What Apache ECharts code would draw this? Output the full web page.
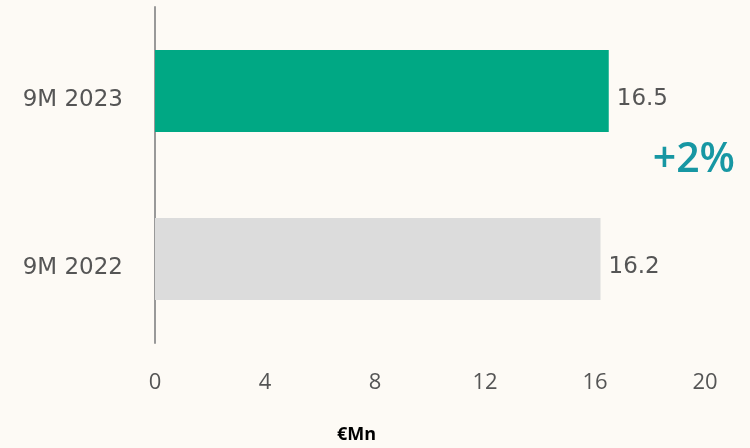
<!doctype html>
<html>
<head>
    <meta charset="utf-8">
    <title>9M revenue</title>
    <script src="https://cdn.jsdelivr.net/npm/echarts@6/dist/echarts.min.js"></script>
    <style>
        html, body{ margin:0; padding:0; width:100%; height:100%; background-color:#fdfaf5; }
        #chartBox{ width:750px; height:448px; }
    </style>
</head>
<body>
    <div id="chartBox"></div>
<script type="text/javascript">
    //数据
    var categories = ['9M 2022', '9M 2023'];
    var values = [16.2, 16.5];
    var barColors = ['#dcdcdc', '#00a884'];
    var xTicks = [0, 4, 8, 12, 16, 20];
    var changeText = '+2%';
    var unitText = '€Mn';

    var myChart = echarts.init(document.getElementById('chartBox'));
    var option = {
        backgroundColor: '#fdfaf5',
        animation: false,
        grid: { left: 155, right: 45, top: 7, bottom: 105, containLabel: false, outerBoundsMode: 'none' },
        xAxis: {
            type: 'value',
            min: xTicks[0],
            max: xTicks[xTicks.length - 1],
            interval: 4,
            axisLine: { show: false },
            axisTick: { show: false },
            splitLine: { show: false },
            axisLabel: { color: '#555', fontSize: 22, margin: 29, fontFamily: 'Open Sans' }
        },
        yAxis: {
            type: 'category',
            data: categories,
            axisLine: { show: true, lineStyle: { color: '#999', width: 2 } },
            axisTick: { show: false },
            axisLabel: { color: '#555', fontSize: 23, margin: 32, fontFamily: 'DejaVu Sans', verticalAlign: 'top', lineHeight: 18 }
        },
        series: [{
            type: 'bar',
            barWidth: 82,
            data: values.map(function(v, i){
                return { value: v, itemStyle: { color: barColors[i] } };
            }),
            label: {
                show: true,
                position: 'right',
                distance: 8,
                offset: [0, 8],
                color: '#555',
                fontSize: 23,
                fontFamily: 'DejaVu Sans'
            }
        }],
        graphic: [{
            type: 'text',
            right: 15,
            top: 140,
            style: {
                text: changeText,
                fill: '#1797a3',
                fontSize: 41,
                fontWeight: 600,
                fontFamily: 'Open Sans'
            }
        }, {
            type: 'text',
            left: 337,
            top: 426,
            style: {
                text: unitText,
                fill: '#000',
                fontSize: 18,
                fontWeight: 'bold',
                fontFamily: 'Open Sans'
            }
        }]
    };
    myChart.setOption(option);
</script>
</body>
</html>
